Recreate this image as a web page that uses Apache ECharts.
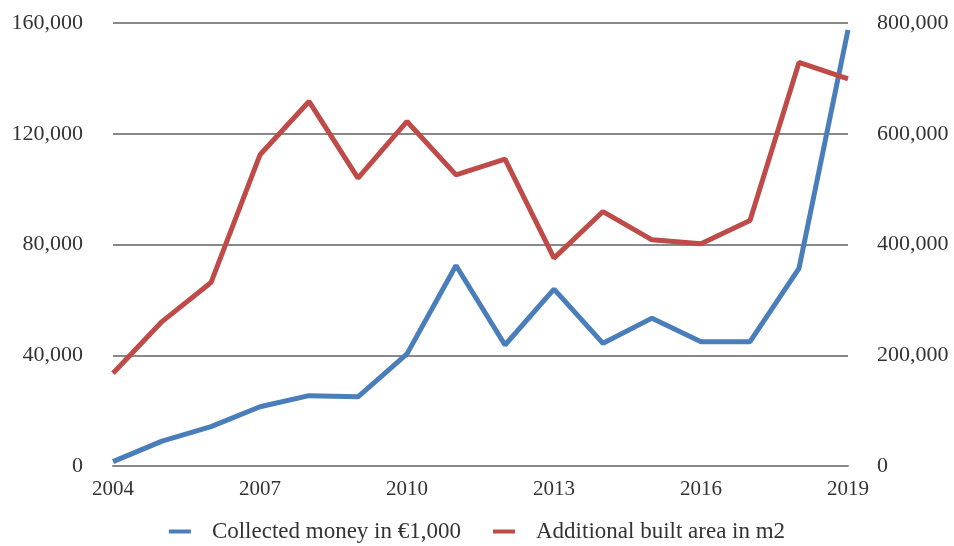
<!DOCTYPE html>
<html>
<head>
<meta charset="utf-8">
<script src="https://cdn.jsdelivr.net/npm/echarts@6/dist/echarts.min.js"></script>
<style>html,body{margin:0;padding:0;background:#fff;}#c{width:954px;height:546px;}</style>
</head>
<body>
<div id="c"></div>
<script>
const years = ['2004','2005','2006','2007','2008','2009','2010','2011','2012','2013','2014','2015','2016','2017','2018','2019'];
const collectedMoney = [1600, 9000, 14200, 21400, 25400, 25000, 40500, 72400, 43700, 63900, 44300, 53400, 44900, 44900, 71400, 157500];
const builtArea = [167500, 260800, 331300, 562000, 658300, 519800, 622200, 525800, 554200, 375300, 459500, 408400, 401200, 443300, 728800, 699300];
const seriesNames = ['Collected money in €1,000', 'Additional built area in m2'];

const fmt = v => v.toString().replace(/\B(?=(\d{3})+(?!\d))/g, ',');
const font = '"Liberation Serif", "DejaVu Serif", serif';
const chart = echarts.init(document.getElementById('c'));
chart.setOption({
  animation: false,
  textStyle: { fontFamily: font },
  grid: { left: 113, right: 106, top: 23, bottom: 80 },
  legend: {
    bottom: -2, left: 'center', itemGap: 32, itemWidth: 22, itemHeight: 4,
    icon: 'rect',
    textStyle: { fontFamily: font, fontSize: 23, color: '#333', padding: [0, 0, 0, 16] },
    data: seriesNames
  },
  xAxis: {
    type: 'category', data: years, boundaryGap: false,
    axisLine: { show: true, lineStyle: { color: '#888', width: 2 } },
    axisTick: { show: false },
    axisLabel: { interval: 2, fontFamily: font, fontSize: 21, color: '#333', margin: 13 }
  },
  yAxis: [
    {
      type: 'value', min: 0, max: 160000, interval: 40000,
      axisLine: { show: false }, axisTick: { show: false },
      splitLine: { lineStyle: { color: '#888', width: 2 } },
      axisLabel: { formatter: fmt, fontFamily: font, fontSize: 22, color: '#333', margin: 30 }
    },
    {
      type: 'value', min: 0, max: 800000, interval: 200000,
      axisLine: { show: false }, axisTick: { show: false },
      splitLine: { show: false },
      axisLabel: { formatter: fmt, fontFamily: font, fontSize: 22, color: '#333', margin: 29 }
    }
  ],
  series: [
    {
      name: seriesNames[0], type: 'line', yAxisIndex: 0, data: collectedMoney,
      symbol: 'none', lineStyle: { color: '#4a7ebb', width: 5 }, itemStyle: { color: '#4a7ebb' }
    },
    {
      name: seriesNames[1], type: 'line', yAxisIndex: 1, data: builtArea,
      symbol: 'none', lineStyle: { color: '#be4b48', width: 5 }, itemStyle: { color: '#be4b48' }
    }
  ]
});
</script>
</body>
</html>
